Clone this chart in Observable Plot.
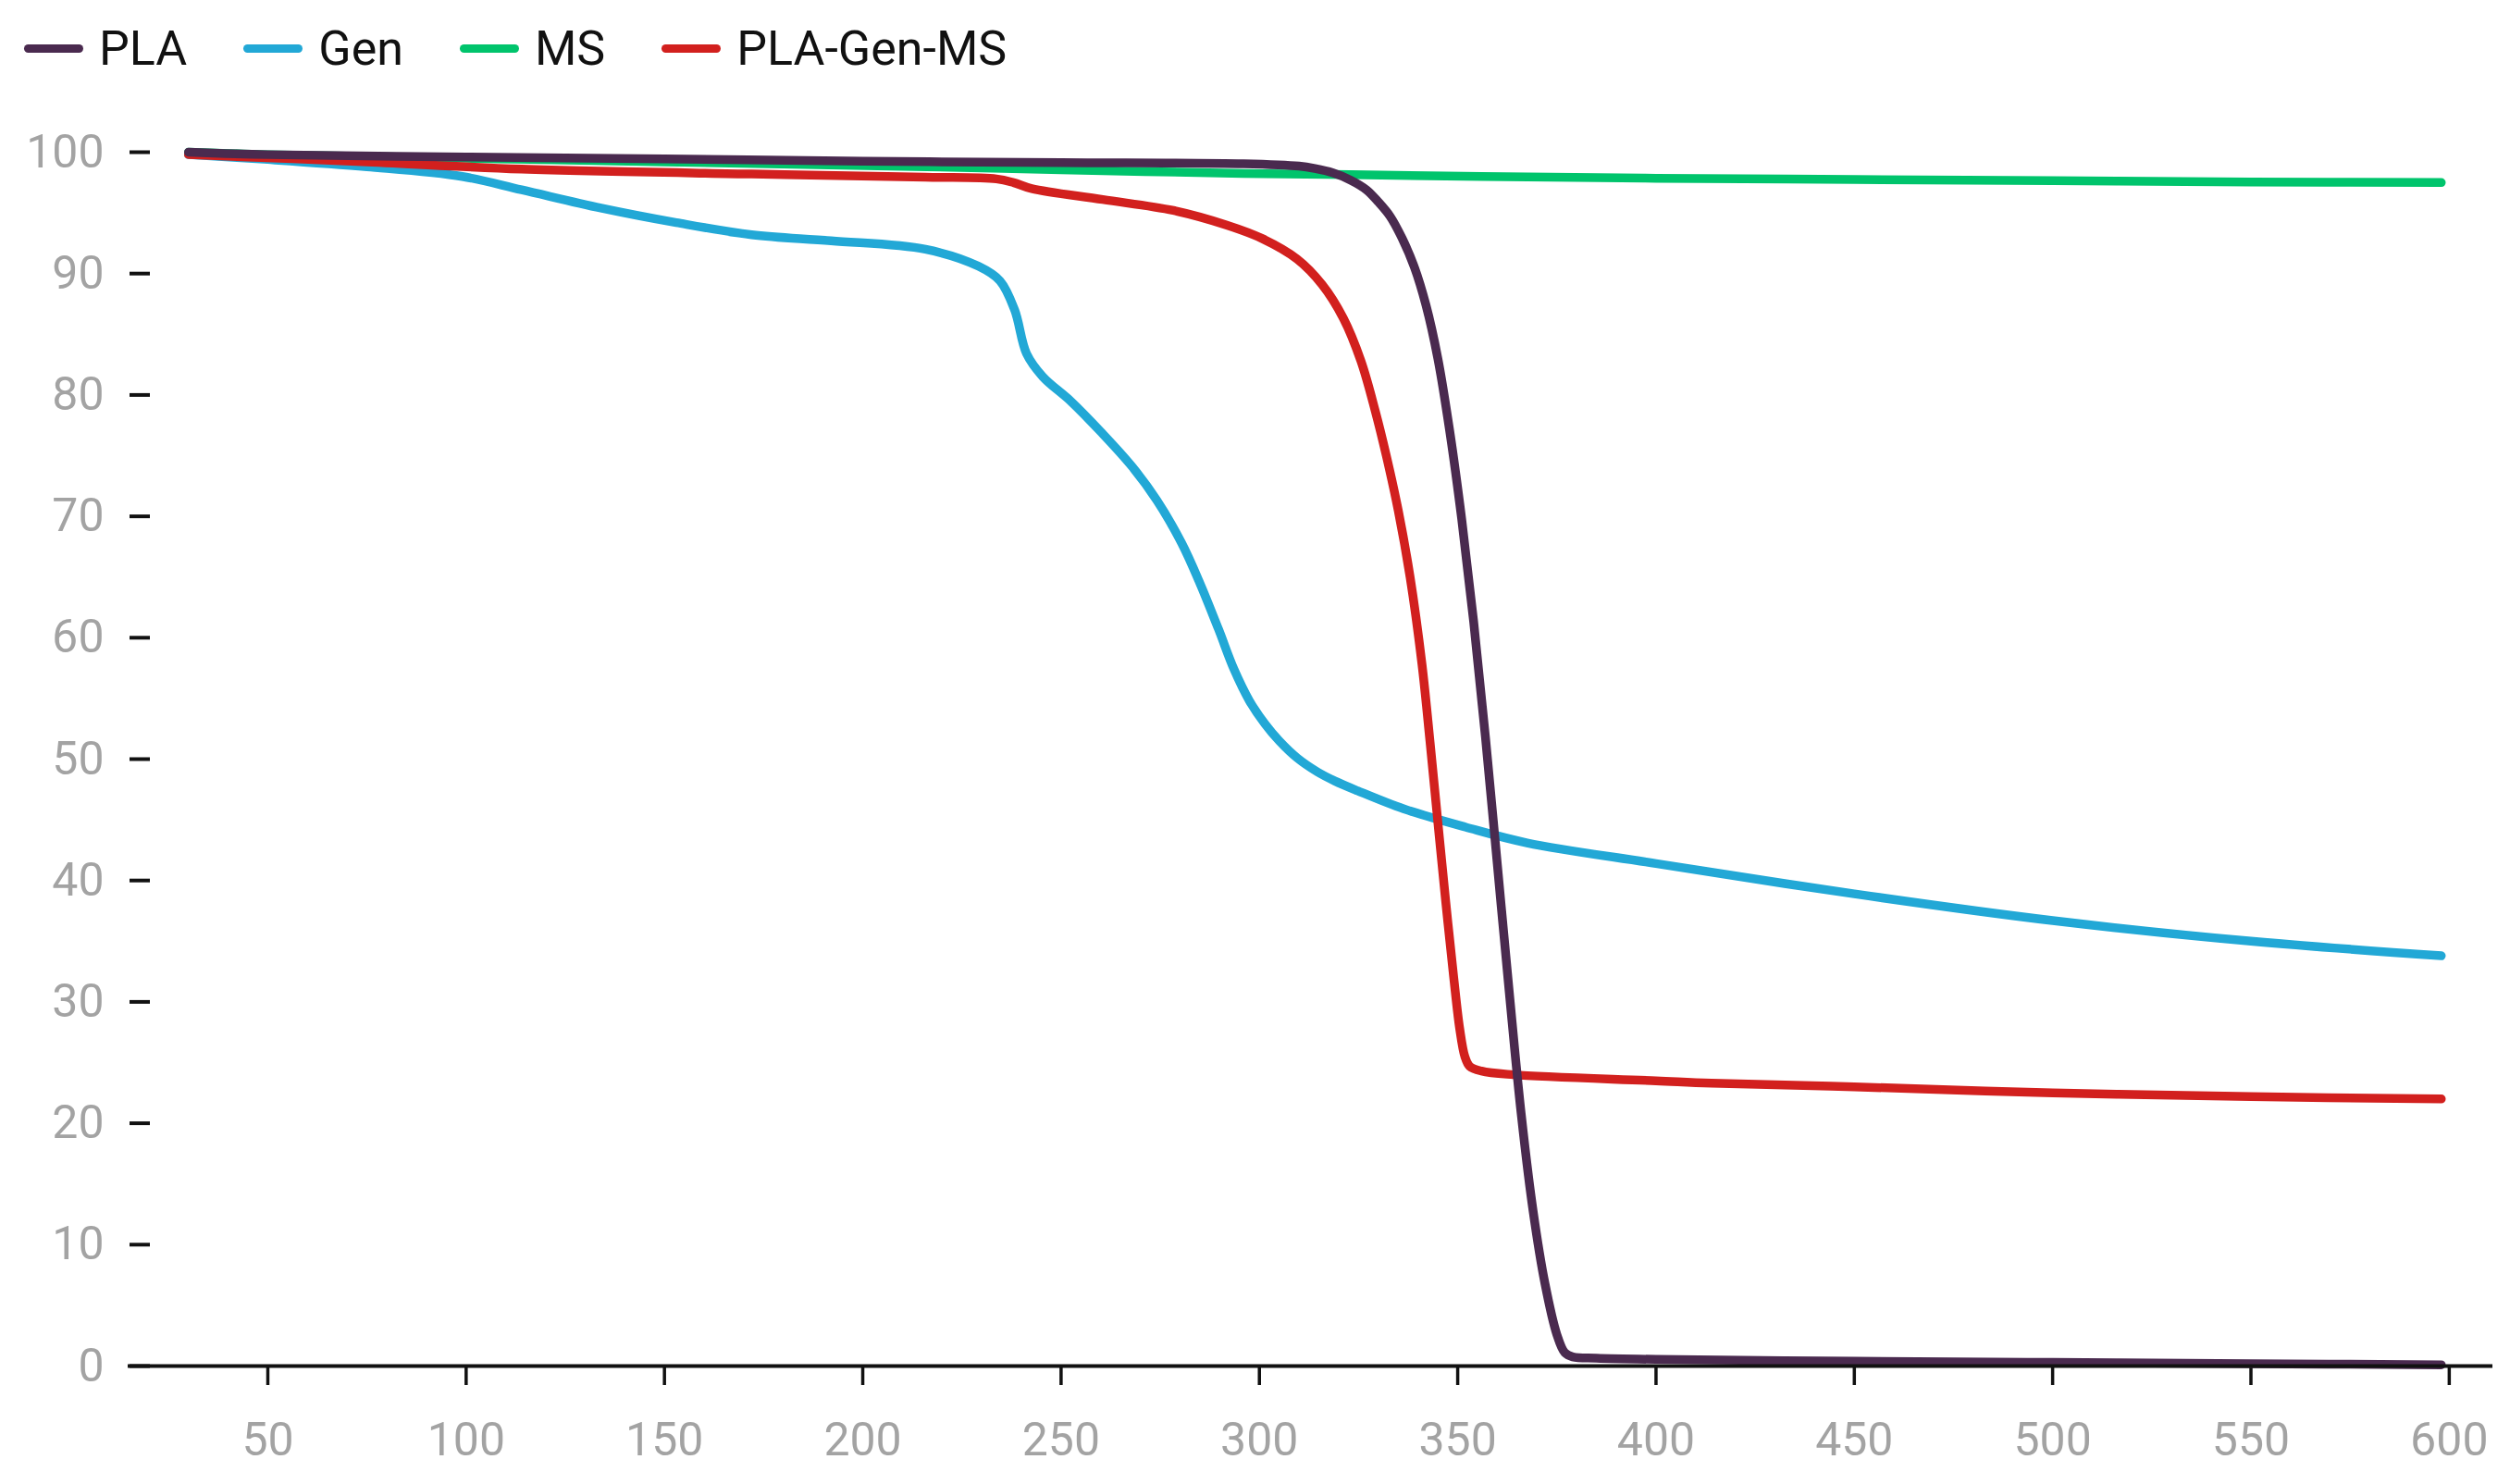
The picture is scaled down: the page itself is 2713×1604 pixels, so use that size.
<!DOCTYPE html>
<html>
<head>
<meta charset="utf-8">
<script src="https://cdn.jsdelivr.net/npm/d3@7"></script>
<script src="https://cdn.jsdelivr.net/npm/@observablehq/plot@0.6"></script>
<style>
  html, body { margin: 0; padding: 0; background: #fff; }
  #legend { height: 100px; display: flex; align-items: center; padding-left: 26px; padding-top: 4px; box-sizing: border-box;
    font-family: Roboto, sans-serif; font-size: 52px; color: #111; }
  .item { display: flex; align-items: center; margin-right: 61px; }
  .sw { width: 64px; height: 9px; border-radius: 4.5px; margin-right: 17px; }
</style>
</head>
<body>
<div id="legend"></div>
<div id="chart"></div>
<script>
const seriesNames = ["PLA", "Gen", "MS", "PLA-Gen-MS"];
const seriesColors = ["#4a2a4f", "#22a8d6", "#00c46c", "#d2201e"];

const xTicks = [50, 100, 150, 200, 250, 300, 350, 400, 450, 500, 550, 600];
const yTicks = [0, 10, 20, 30, 40, 50, 60, 70, 80, 90, 100];

// PLA
const plaT = [30, 50, 100, 150, 200, 250, 296, 310, 314, 318.5, 323, 327, 330, 333, 336, 339, 342, 345, 348, 351, 354, 357, 360, 363, 366, 369, 372, 375, 377, 379, 385, 400, 450, 500, 550, 598];
const plaW = [100, 99.8, 99.6, 99.45, 99.25, 99.15, 99.05, 98.85, 98.65, 98.3, 97.7, 96.9, 95.9, 94.7, 92.9, 90.6, 87.4, 83.0, 77.0, 69.8, 61.4, 51.8, 41.3, 30.8, 20.8, 12.8, 6.8, 2.6, 1.1, 0.75, 0.65, 0.55, 0.4, 0.3, 0.2, 0.1];

// Gen
const genT = [30, 50, 75, 99, 114, 134, 153, 172, 192, 215.8, 229.2, 234.6, 238.3, 241.3, 245.4, 252.4, 260.2, 267.9, 274.2, 280.4, 285, 289.7, 293.6, 297.5, 301.4, 305, 309.5, 314.6, 319, 324.7, 336.4, 352, 367.5, 400, 450, 500, 550, 598];
const genW = [99.8, 99.4, 98.8, 98.0, 96.9, 95.4, 94.2, 93.2, 92.7, 92.0, 90.6, 89.4, 87.0, 83.4, 81.5, 79.5, 76.9, 74.1, 71.3, 67.8, 64.5, 60.7, 57.4, 54.8, 52.9, 51.5, 50.1, 48.95, 48.2, 47.4, 45.9, 44.4, 43.1, 41.4, 38.9, 36.7, 35.0, 33.8];

// MS
const msT = [30, 50, 100, 150, 216, 250, 296, 323, 356, 400, 450, 500, 550, 598];
const msW = [100, 99.8, 99.5, 99.2, 98.8, 98.55, 98.25, 98.15, 98.0, 97.85, 97.75, 97.65, 97.55, 97.5];

// PLA-Gen-MS
const mixT = [30, 75, 114, 172, 215.8, 233.7, 238, 242.6, 260.5, 278.3, 291.7, 300.6, 309.5, 315.8, 321.2, 325.6, 329.2, 332, 335, 338, 341, 343, 345, 347, 349, 350.5, 351.8, 353, 356, 364, 400, 414, 450, 500, 550, 598];
const mixW = [99.8, 99.2, 98.6, 98.2, 97.95, 97.8, 97.5, 97.0, 96.1, 95.2, 94.0, 92.9, 91.2, 89.1, 86.3, 82.8, 78.7, 75.0, 70.5, 65.0, 57.8, 51.5, 44.8, 38.2, 32.0, 27.8, 25.5, 24.7, 24.3, 24.0, 23.5, 23.3, 23.0, 22.5, 22.2, 22.0];

const toRows = (ts, ws) => ts.map((t, i) => ({t, w: ws[i]}));
const rows = {
  "PLA": toRows(plaT, plaW),
  "Gen": toRows(genT, genW),
  "MS": toRows(msT, msW),
  "PLA-Gen-MS": toRows(mixT, mixW)
};

// legend
const legend = document.getElementById("legend");
seriesNames.forEach((name, i) => {
  const it = document.createElement("div");
  it.className = "item";
  const sw = document.createElement("div");
  sw.className = "sw";
  sw.style.background = seriesColors[i];
  const tx = document.createElement("span");
  tx.textContent = name;
  it.appendChild(sw); it.appendChild(tx);
  legend.appendChild(it);
});

const drawOrder = ["Gen", "MS", "PLA-Gen-MS", "PLA"];

const chart = Plot.plot({
  width: 2713,
  height: 1504,
  marginLeft: 138,
  marginRight: 19,
  marginTop: 64,
  marginBottom: 128,
  style: {fontFamily: "Roboto, sans-serif", background: "#fff"},
  x: {domain: [14.78, 611]},
  y: {domain: [0, 100]},
  marks: [
    Plot.axisY({ticks: yTicks, tickSize: 22, dx: 24, fill: "none", stroke: "#111", strokeWidth: 4, label: null}),
    Plot.axisY({ticks: yTicks, tickSize: 0, tickPadding: 26, fontSize: 50, fill: "#a3a3a3", label: null}),
    Plot.axisX({ticks: xTicks, tickSize: 21, tickPadding: 40, fontSize: 50, fill: "#a3a3a3", stroke: "#111", strokeWidth: 3.5, label: null}),
    ...drawOrder.map(name => Plot.line(rows[name], {
      x: "t", y: "w",
      stroke: seriesColors[seriesNames.indexOf(name)],
      strokeWidth: 9.5,
      curve: "catmull-rom",
      strokeLinecap: "round",
      strokeLinejoin: "round"
    })),
    Plot.ruleY([0], {stroke: "#111", strokeWidth: 4})
  ]
});
document.getElementById("chart").appendChild(chart);
</script>
</body>
</html>
